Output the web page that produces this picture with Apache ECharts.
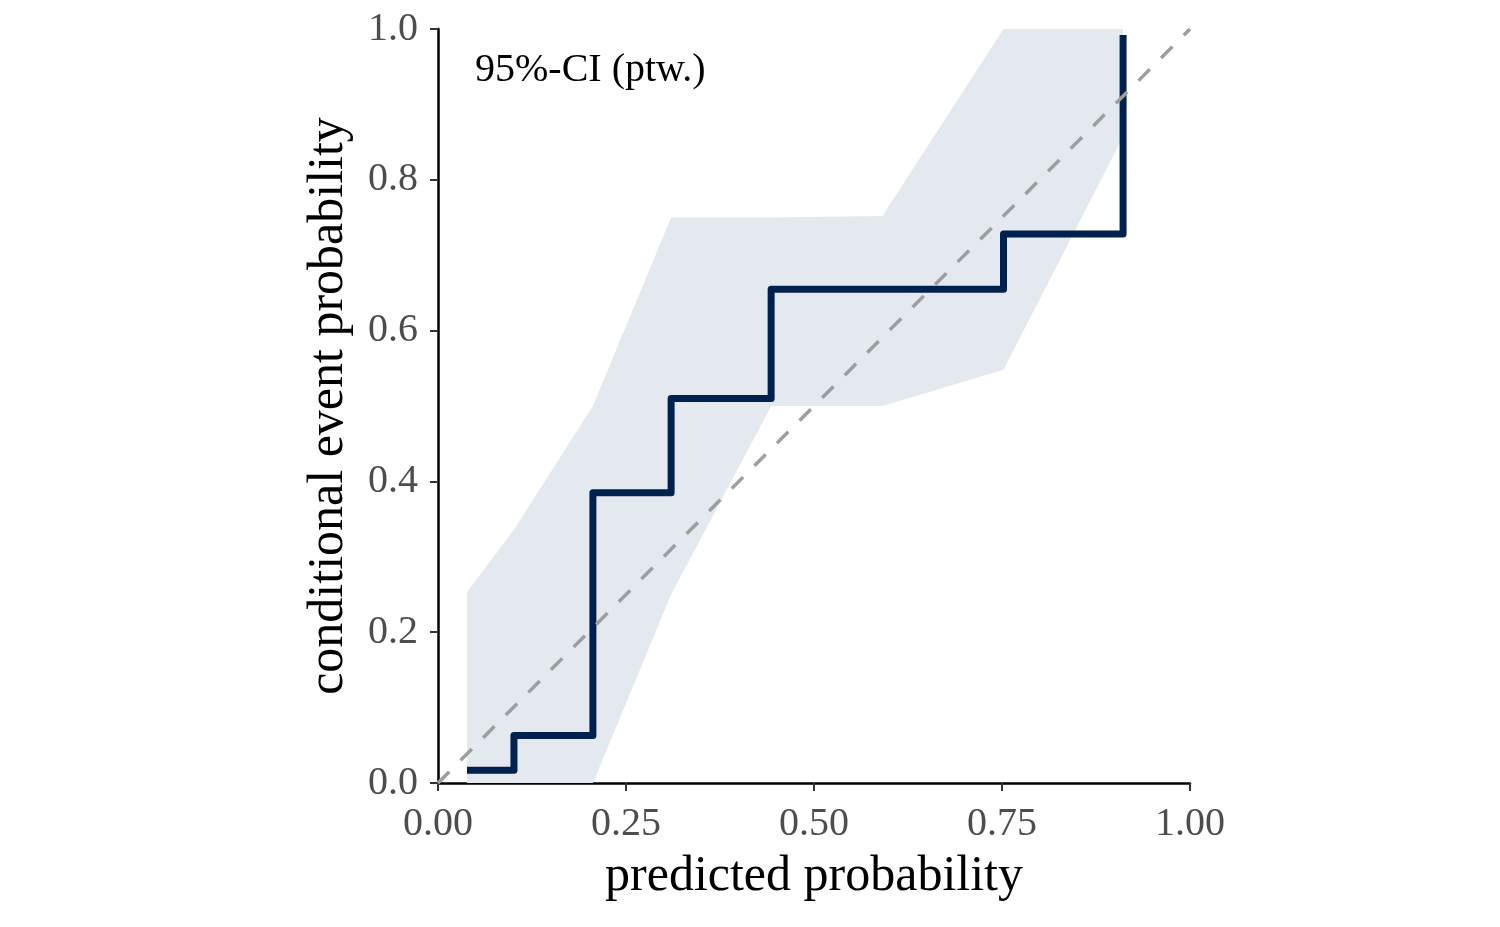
<!DOCTYPE html>
<html>
<head>
<meta charset="utf-8">
<script src="https://cdn.jsdelivr.net/npm/echarts@6/dist/echarts.min.js"></script>
<style>html,body{margin:0;padding:0;background:#fff;}#c{width:1500px;height:927px;}</style>
</head>
<body>
<div id="c"></div>
<script>
// step (calibration) curve
const stepX = [0.0386, 0.101, 0.206, 0.31, 0.443, 0.752, 0.911];
const stepY = [0.017, 0.063, 0.385, 0.51, 0.655, 0.728, 0.992];
// pointwise 95% CI band
const bandX = [0.0386, 0.101, 0.206, 0.31, 0.443, 0.591, 0.752, 0.911];
const bandLower = [0, 0, 0, 0.25, 0.5, 0.5, 0.548, 0.857];
const bandUpper = [0.253, 0.336, 0.5, 0.75, 0.75, 0.752, 1.0, 1.0];
// diagonal reference
const diagX = [0, 1];
const diagY = [0, 1];
// ticks
const xTicks = ['0.00', '0.25', '0.50', '0.75', '1.00'];
const yTicks = ['0.0', '0.2', '0.4', '0.6', '0.8', '1.0'];

const FONT = '"Liberation Serif", "Times New Roman", serif';
const chart = echarts.init(document.getElementById('c'), null, {renderer: 'canvas'});

const bandData = bandX.map((x, i) => [x, bandLower[i], bandUpper[i]]);

chart.setOption({
  animation: false,
  backgroundColor: '#ffffff',
  grid: {left: 438, right: 310, top: 29, bottom: 144, containLabel: false},
  xAxis: {
    type: 'value', min: 0, max: 1, interval: 0.25,
    name: 'predicted probability', nameLocation: 'middle', nameGap: 69,
    nameTextStyle: {fontFamily: FONT, fontSize: 50, color: '#000'},
    axisLine: {show: true, lineStyle: {color: '#000', width: 2.5}},
    axisTick: {show: true, length: 8, lineStyle: {color: '#333', width: 2}},
    axisLabel: {fontFamily: FONT, fontSize: 40, color: '#4D4D4D', margin: 21,
      formatter: v => xTicks[Math.round(v / 0.25)]},
    splitLine: {show: false}
  },
  yAxis: {
    type: 'value', min: 0, max: 1, interval: 0.2,
    name: 'conditional event probability', nameLocation: 'middle', nameGap: 84,
    nameTextStyle: {fontFamily: FONT, fontSize: 50, color: '#000'},
    axisLine: {show: true, lineStyle: {color: '#000', width: 2.5}},
    axisTick: {show: true, length: 8, lineStyle: {color: '#333', width: 2}},
    axisLabel: {fontFamily: FONT, fontSize: 40, color: '#4D4D4D', margin: 20,
      formatter: v => yTicks[Math.round(v / 0.2)]},
    splitLine: {show: false}
  },
  series: [
    {
      type: 'custom', z: 1, silent: true,
      data: [bandData[0]],
      renderItem: function (params, api) {
        const up = bandData.map(d => api.coord([d[0], d[2]]));
        const lo = bandData.slice().reverse().map(d => api.coord([d[0], d[1]]));
        return {type: 'polygon', shape: {points: up.concat(lo)},
          style: {fill: '#E4E8EF', stroke: null}};
      }
    },
    {
      type: 'line', z: 3, step: 'end', symbol: 'none', silent: true,
      data: stepX.map((x, i) => [x, stepY[i]]),
      lineStyle: {color: '#00204D', width: 7, cap: 'butt', join: 'round'}
    },
    {
      type: 'line', z: 4, symbol: 'none', silent: true,
      data: diagX.map((x, i) => [x, diagY[i]]),
      lineStyle: {color: '#9E9E9E', width: 3.5, type: [16, 16], cap: 'butt'}
    }
  ],
  graphic: [{
    type: 'text', left: 475, top: 50, z: 10,
    style: {text: '95%-CI (ptw.)', font: '40px ' + FONT, fill: '#000'}
  }]
});
</script>
</body>
</html>
